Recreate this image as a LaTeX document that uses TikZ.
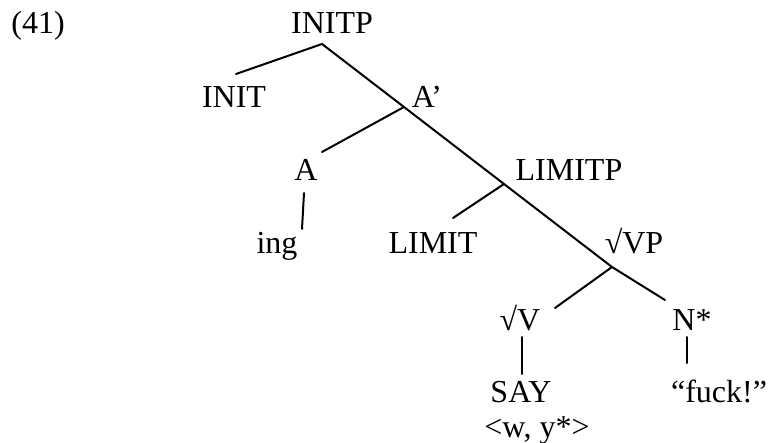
\documentclass[tikz,border=0pt]{standalone}
\usepackage{fontspec}
\setmainfont{Liberation Serif}
\tikzset{
  cat/.style={anchor=base, inner sep=0pt, font=\fontsize{16}{19}\selectfont},
  branch/.style={line width=1pt, line cap=round},
}
\begin{document}
\begin{tikzpicture}[x=0.5pt, y=-0.5pt]
  \useasboundingbox (0,0) rectangle (770,443);
  \node[cat] (ex) at (38,34) {(41)};

  % Categories
  \node[cat] (initp) at (332,34) {INITP};
  \node[cat] (init) at (234,108) {INIT};
  \node[cat] (abar) at (427,108) {A’};
  \node[cat] (a) at (306,181) {A};
  \node[cat] (limitp) at (569,181) {LIMITP};
  \node[cat] (ing) at (277,253) {ing};
  \node[cat] (limit) at (433,253) {LIMIT};
  \node[cat] (vp) at (634,253) {√VP};
  \node[cat] (v) at (520,330) {√V};
  \node[cat] (nstar) at (692,330) {N*};
  \node[cat] (say) at (521,402) {SAY};
  \node[cat] (fuck) at (719,402) {“fuck!”};
  \node[cat] (args) at (537,437) {<w, y*>};

  % Branch points and line ends
  \coordinate (initp-j) at (322,44);
  \coordinate (abar-j) at (404,107);
  \coordinate (limitp-j) at (504,184);
  \coordinate (vp-j) at (612,267);
  \coordinate (init-t) at (236,74);
  \coordinate (a-t) at (322,152);
  \coordinate (limit-t) at (453,218);
  \coordinate (v-t) at (555,308);
  \coordinate (nstar-t) at (665,300);
  \coordinate (a-b) at (304,193);
  \coordinate (ing-t) at (302,229);
  \coordinate (v-b) at (522,337);
  \coordinate (say-t) at (522,374);
  \coordinate (nstar-b) at (687,337);
  \coordinate (fuck-t) at (687,363);

  \draw[branch] (initp-j) -- (abar-j) -- (limitp-j) -- (vp-j) -- (nstar-t);
  \foreach \source/\target in {initp-j/init-t, abar-j/a-t, limitp-j/limit-t,
      vp-j/v-t, a-b/ing-t, v-b/say-t, nstar-b/fuck-t}
    \draw[branch] (\source) -- (\target);
\end{tikzpicture}
\end{document}
